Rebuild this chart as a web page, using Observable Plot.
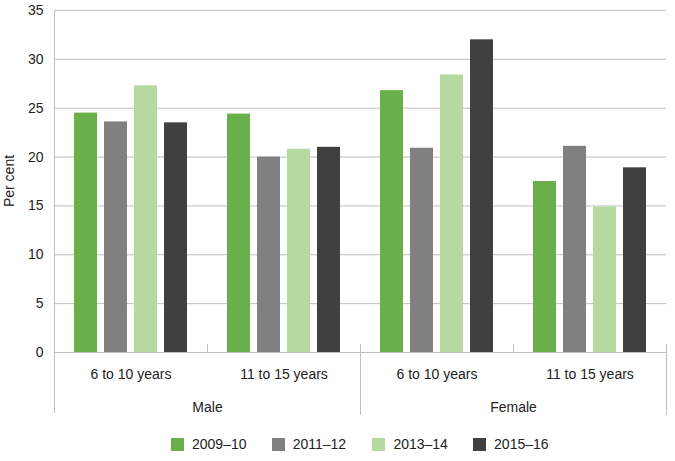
<!DOCTYPE html>
<html>
<head>
<meta charset="utf-8">
<script src="https://cdn.jsdelivr.net/npm/d3@7"></script>
<script src="https://cdn.jsdelivr.net/npm/@observablehq/plot@0.6"></script>
<style>
  body { margin: 0; background: #fff; font-family: "Liberation Sans", Arial, sans-serif; }
  #chart { width: 675px; }
  .legend { display: flex; justify-content: flex-start; margin: 11px 0 0 171px; font-size: 14px; color: #222; height: 16px; align-items: center; }
  .legend .item { display: flex; align-items: center; width: 100.7px; flex: none; }
  .legend .sw { width: 13px; height: 13px; margin-right: 8px; }
</style>
</head>
<body>
<div id="chart"></div>
<script>
const sexes = ["Male", "Female"];
const ages = ["6 to 10 years", "11 to 15 years"];
const years = ["2009–10", "2011–12", "2013–14", "2015–16"];
const colors = ["#6AB04A", "#808080", "#B6D9A0", "#404040"];
// values per [sex][age] in order of years
const male6to10 = [24.5, 23.6, 27.3, 23.5];
const male11to15 = [24.4, 20.0, 20.8, 21.0];
const female6to10 = [26.8, 20.9, 28.4, 32.0];
const female11to15 = [17.5, 21.1, 14.9, 18.9];
const yTicks = [0, 5, 10, 15, 20, 25, 30, 35];

const series = {
  "Male": {"6 to 10 years": male6to10, "11 to 15 years": male11to15},
  "Female": {"6 to 10 years": female6to10, "11 to 15 years": female11to15}
};
const keyOf = (s, a) => s + "|" + a;
const groups = sexes.flatMap(s => ages.map(a => keyOf(s, a)));
const data = [];
for (const s of sexes) for (const a of ages) years.forEach((y, i) => data.push({key: keyOf(s, a), year: y, value: series[s][a][i]}));
const sexLabels = sexes.map(s => ({key: keyOf(s, ages[0]), label: s}));

const W = 675, H = 425;
const plot = Plot.plot({
  width: W, height: H,
  marginTop: 10, marginBottom: 73, marginLeft: 52, marginRight: 8,
  style: {fontFamily: "'Liberation Sans', Arial, sans-serif", fontSize: "14px", color: "#222", background: "#fff"},
  fx: {domain: groups, padding: 0},
  x: {domain: years, paddingInner: 0.24, paddingOuter: 0.61, axis: null},
  y: {domain: [0, 35], ticks: yTicks},
  color: {domain: years, range: colors},
  marks: [
    Plot.gridY(yTicks, {stroke: "#bfbfbf", strokeOpacity: 1, strokeWidth: 1}),
    Plot.barY(data, {fx: "key", x: "year", y: "value", fill: "year"}),
    Plot.axisY(yTicks, {tickSize: 0, tickPadding: 11, label: null, fontSize: 14}),
    Plot.axisFx({anchor: "bottom", tickSize: 0, tickPadding: 17, label: null, tickFormat: d => d.split("|")[1], fontSize: 14}),
    Plot.text(sexLabels, {fx: "key", text: "label", frameAnchor: "bottom-right", textAnchor: "middle", dy: 59, fontSize: 14, fill: "#222"})
  ]
});

// Y label
const svg = d3.select(plot);
svg.append("text")
  .attr("transform", `translate(14,${(10 + (H - 73)) / 2}) rotate(-90)`)
  .attr("text-anchor", "middle")
  .attr("fill", "#222")
  .style("font-size", "14px")
  .text("Per cent");

// Separators using the fx scale
const fxS = plot.scale("fx");
const yS = plot.scale("y");
const yBase = yS.apply(0);
const yTop = yS.apply(35);
const vline = (x, y1, y2) => svg.append("line").attr("x1", x).attr("x2", x).attr("y1", y1).attr("y2", y2)
  .attr("stroke", "#bfbfbf").attr("stroke-width", 1).attr("shape-rendering", "crispEdges");
// baseline
svg.append("line").attr("x1", fxS.apply(groups[0])).attr("x2", fxS.apply(groups[groups.length - 1]) + fxS.bandwidth)
  .attr("y1", yBase).attr("y2", yBase).attr("stroke", "#bfbfbf").attr("shape-rendering", "crispEdges");
// left axis line
vline(fxS.apply(groups[0]), yTop, yBase + 61);
// sex group boundaries
sexes.forEach((s, i) => {
  if (i > 0) vline(fxS.apply(keyOf(s, ages[0])), yBase - 8, yBase + 63);
});
vline(fxS.apply(groups[groups.length - 1]) + fxS.bandwidth, yBase - 8, yBase + 63);
// age boundaries within sex
sexes.forEach(s => ages.forEach((a, j) => { if (j > 0) vline(fxS.apply(keyOf(s, a)), yBase - 8, yBase); }));

document.getElementById("chart").appendChild(plot);

// Legend
const leg = document.createElement("div");
leg.className = "legend";
years.forEach((yr, i) => {
  const it = document.createElement("div");
  it.className = "item";
  const sw = document.createElement("div");
  sw.className = "sw";
  sw.style.background = colors[i];
  const t = document.createElement("span");
  t.textContent = yr;
  it.appendChild(sw); it.appendChild(t);
  leg.appendChild(it);
});
document.getElementById("chart").appendChild(leg);
</script>
</body>
</html>
